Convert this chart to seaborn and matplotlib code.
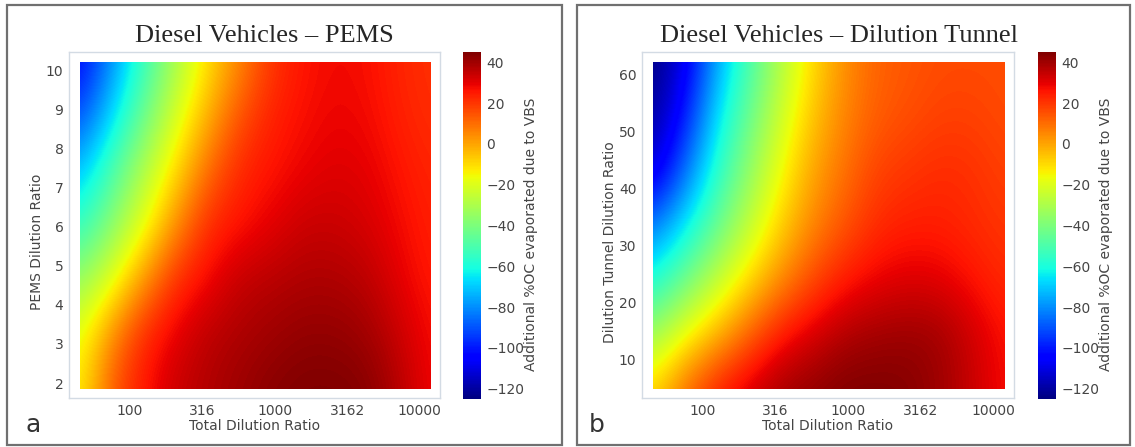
import numpy as np
import matplotlib
matplotlib.use("Agg")
import matplotlib.pyplot as plt
from matplotlib.patches import Rectangle
import seaborn as sns

# Total dilution ratio at the grid columns (evenly spaced in log10, shared by both panels)
total_dilution = [45, 74, 123, 204, 339, 562, 933, 1549, 2570, 4266, 7079, 11749]
x_ticks = [100, 316, 1000, 3162, 10000]
x_tick_labels = ["100", "316", "1000", "3162", "10000"]

# Panel a: PEMS dilution ratio rows (bottom to top), additional %OC evaporated due to VBS
pems_dilution = [1.85, 3.24, 4.63, 6.03, 7.42, 8.81, 10.2]
pems_oc = [
    [-14, 14, 26, 34, 37.5, 40.5, 43.5, 45, 45, 44, 37, 28],
    [-19, 5, 23, 30, 36, 38, 40, 42, 42, 40, 34, 27],
    [-35, -19, 3, 22, 28, 35, 36.5, 38, 38, 36, 30, 25],
    [-56, -37, -18, 4, 22.5, 26, 30, 34, 34, 32, 28, 24],
    [-72, -50, -29, -10, 10.5, 23, 26, 29, 31, 30, 26, 23],
    [-91, -67, -43, -21, -2, 15.5, 24, 27, 29, 28, 24, 21.5],
    [-105, -80, -54, -31, -11, 5, 20, 26, 28, 27, 23, 21],
]
pems_ticks = [2, 3, 4, 5, 6, 7, 8, 9, 10]

# Panel b: dilution tunnel ratio rows (bottom to top), additional %OC evaporated due to VBS
tunnel_dilution = [4.9, 14.47, 24.03, 33.6, 43.17, 52.73, 62.3]
tunnel_oc = [
    [-8, 11, 25, 33, 40, 42.5, 45, 45, 44, 40, 34, 27],
    [-34, -16.5, -3, 12, 25.5, 32, 38, 40, 41, 40, 33, 26],
    [-60, -43, -26, -10, 4.5, 16.5, 25, 29, 31, 30, 26, 22],
    [-84, -65, -45, -26, -8, 5.5, 14.5, 22, 24, 24, 22, 20],
    [-114, -86, -57, -36, -16, 0, 9.5, 18, 20, 22, 21, 18],
    [-121, -101, -66, -44, -23, -5.5, 6, 13, 15.5, 18, 18, 16],
    [-125, -110, -76, -51, -29, -10, 4, 12, 14, 16, 16, 16],
]
tunnel_ticks = [10, 20, 30, 40, 50, 60]

cbar_ticks = [40, 20, 0, -20, -40, -60, -80, -100, -120]
vmin, vmax = -125, 45

sns.set_theme(style="white")
plt.rcParams["font.family"] = ["DejaVu Sans"]
plt.rcParams["axes.unicode_minus"] = True

W, H = 1135, 447
fig = plt.figure(figsize=(W / 100, H / 100), dpi=100)
cmap = matplotlib.colormaps["jet"]
label_color = "#454545"


def fx(px):
    return px / W


def fy(py):
    return 1 - py / H


def panel(left, right, cb_left, ydata, zdata, yticks, ylim, ylabel, title, title_x, letter, letter_x):
    ax = fig.add_axes([fx(left), fy(398), fx(right - left), (398 - 52) / H])
    lx = np.log10(total_dilution)
    yv = np.asarray(ydata, dtype=float)
    dx = (lx[-1] - lx[0]) / (len(lx) - 1)
    dy = (yv[-1] - yv[0]) / (len(yv) - 1)
    im = ax.imshow(np.array(zdata, dtype=float), origin="lower", aspect="auto",
                   extent=[lx[0] - dx / 2, lx[-1] + dx / 2, yv[0] - dy / 2, yv[-1] + dy / 2],
                   cmap=cmap, vmin=vmin, vmax=vmax,
                   interpolation="bicubic", interpolation_stage="data")
    im.set_clip_path(Rectangle((lx[0], yv[0]), lx[-1] - lx[0], yv[-1] - yv[0],
                               transform=ax.transData))
    ax.set_xlim(1.58, 4.14)
    ax.set_ylim(*ylim)
    ax.set_xticks(np.log10(x_ticks))
    ax.set_xticklabels(x_tick_labels)
    ax.set_yticks(yticks)
    ax.tick_params(length=0, labelsize=10, colors=label_color, pad=4)
    for sp in ax.spines.values():
        sp.set_color("#d3dbe4")
        sp.set_linewidth(1.0)
    ax.set_xlabel("Total Dilution Ratio", fontsize=10, color=label_color)
    ax.xaxis.set_label_coords(0.5, -0.06)
    ax.set_ylabel(ylabel, fontsize=10, color=label_color)
    ax.yaxis.set_label_coords(-0.068, 0.45)

    cax = fig.add_axes([fx(cb_left), fy(399), fx(18), (399 - 52) / H])
    cb = fig.colorbar(im, cax=cax, ticks=cbar_ticks)
    cb.outline.set_visible(False)
    cax.tick_params(length=0, labelsize=10, colors=label_color, pad=4)
    fig.text(fx(cb_left + 68), fy(234), "Additional %OC evaporated due to VBS",
             rotation=90, ha="center", va="center", fontsize=10, color=label_color)

    fig.text(fx(title_x), fy(42), title, ha="center", va="baseline",
             fontsize=19, family=["Liberation Serif", "DejaVu Serif"], color="#262626")
    fig.text(fx(letter_x), fy(425), letter, ha="center", va="center",
             fontsize=18, color="#333333")
    return ax


panel(69, 440, 463, pems_dilution, pems_oc, pems_ticks, (1.62, 10.46),
      "PEMS Dilution Ratio", "Diesel Vehicles – PEMS", 264, "a", 33)
panel(642, 1014, 1038, tunnel_dilution, tunnel_oc, tunnel_ticks, (3.3, 64),
      "Dilution Tunnel Dilution Ratio", "Diesel Vehicles – Dilution Tunnel", 839, "b", 597)

# Panel frames
for x0, x1 in [(7, 562), (577, 1130)]:
    fig.patches.append(Rectangle((fx(x0), fy(445)), fx(x1 - x0), (445 - 5) / H,
                                 transform=fig.transFigure, fill=False,
                                 edgecolor="#707070", linewidth=1.6))

fig.savefig("out.png", dpi=100)
